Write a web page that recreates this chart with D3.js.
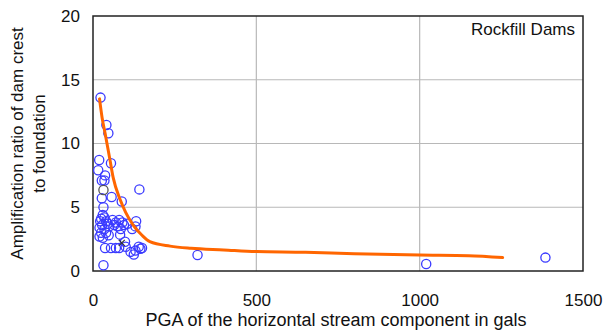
<!DOCTYPE html>
<meta charset="utf-8">
<style>
  body { margin: 0; background: #fff; }
  svg { font-family: "Liberation Sans", Arial, sans-serif; }
  .grid line { stroke: #b8b8b8; stroke-width: 1.2px; }
  .tick text { font-size: 17px; fill: #111; }
  .dam { fill: none; stroke: #3a3aff; stroke-width: 1.3px; }
</style>
<body>
<svg width="607" height="336"></svg>
<script src="https://d3js.org/d3.v7.min.js"></script>
<script>
  // PGA (gals) and amplification ratio of each record
  var pga = [23, 41, 47, 19, 55, 16, 37, 27, 35, 142, 27, 57, 88, 32, 30, 25, 35, 22, 40, 28,
             45, 20, 35, 50, 25, 40, 20, 30, 48, 60, 70, 80, 90, 75, 85, 95, 105, 65, 83, 120,
             132, 130, 98, 55, 70, 80, 100, 115, 125, 130, 140, 145, 150, 37, 32, 320, 1020, 1385];
  var ratio = [13.6, 11.45, 10.8, 8.7, 8.45, 7.9, 7.5, 7.1, 7.1, 6.4, 5.7, 5.8, 5.45, 5.0, 4.4, 4.1, 4.2, 3.9, 3.9, 3.6,
               3.7, 3.4, 3.3, 3.5, 3.0, 3.0, 2.7, 2.6, 2.8, 4.0, 3.8, 4.0, 3.8, 3.5, 3.3, 3.6, 3.7, 3.6, 2.85, 3.3,
               3.9, 3.5, 2.3, 1.8, 1.8, 1.8, 1.9, 1.5, 1.3, 1.6, 1.9, 1.75, 1.8, 1.8, 0.45, 1.25, 0.55, 1.05];
  // two records drawn in dark grey
  var darkPga = [32], darkRatio = [6.35];
  var crossPga = [88], crossRatio = [2.2];

  // fitted curve
  var fitPga = [20, 28, 37, 52, 62, 83, 100, 123, 150, 174, 236, 300, 400, 500, 650, 800, 1000, 1150, 1254];
  var fitRatio = [13.5, 12.0, 10.8, 8.7, 7.3, 5.6, 4.6, 3.6, 2.8, 2.3, 1.95, 1.78, 1.65, 1.52, 1.47, 1.35, 1.25, 1.2, 1.05];

  var xTicks = [0, 500, 1000, 1500];
  var yTicks = [0, 5, 10, 15, 20];

  var svg = d3.select("svg");
  var pLeft = 93, pRight = 583, pTop = 16, pBottom = 271;

  var x = d3.scaleLinear().domain([0, 1500]).range([pLeft, pRight]);
  var y = d3.scaleLinear().domain([0, 20]).range([pBottom, pTop]);

  // grid
  var grid = svg.append("g").attr("class", "grid");
  grid.selectAll("line.h").data(yTicks.slice(1, -1)).enter().append("line")
      .attr("class", "h")
      .attr("x1", pLeft).attr("x2", pRight)
      .attr("y1", function(d) { return y(d); }).attr("y2", function(d) { return y(d); });
  grid.selectAll("line.v").data(xTicks.slice(1, -1)).enter().append("line")
      .attr("class", "v")
      .attr("y1", pTop).attr("y2", pBottom)
      .attr("x1", function(d) { return x(d); }).attr("x2", function(d) { return x(d); });

  // axes, labels only
  svg.append("g")
    .attr("transform", "translate(" + (pLeft - 7) + ",0)")
    .call(d3.axisLeft(y).tickValues(yTicks).tickSize(0).tickPadding(6))
    .call(function(g) { g.select(".domain").remove(); });
  svg.append("g")
    .attr("transform", "translate(0," + (pBottom + 17) + ")")
    .call(d3.axisBottom(x).tickValues(xTicks).tickFormat(d3.format("d")).tickSize(0).tickPadding(6))
    .call(function(g) { g.select(".domain").remove(); });

  // frame
  svg.append("rect")
    .attr("x", pLeft).attr("y", pTop)
    .attr("width", pRight - pLeft).attr("height", pBottom - pTop)
    .attr("fill", "none").attr("stroke", "#222").attr("stroke-width", 1.5);

  // points
  svg.append("g").selectAll("circle").data(pga).enter().append("circle")
    .attr("class", "dam")
    .attr("cx", function(d) { return x(d); })
    .attr("cy", function(d, i) { return y(ratio[i]); })
    .attr("r", 4.6);
  svg.append("g").selectAll("circle").data(darkPga).enter().append("circle")
    .attr("fill", "none").attr("stroke", "#555").attr("stroke-width", 1.3)
    .attr("cx", function(d) { return x(d); })
    .attr("cy", function(d, i) { return y(darkRatio[i]); })
    .attr("r", 4.6);
  svg.append("g").selectAll("path").data(crossPga).enter().append("path")
    .attr("stroke", "#333").attr("stroke-width", 1.2)
    .attr("d", function(d, i) {
      var cx = x(d), cy = y(crossRatio[i]);
      return "M" + (cx - 3) + "," + (cy - 3) + "L" + (cx + 3) + "," + (cy + 3) +
             "M" + (cx - 3) + "," + (cy + 3) + "L" + (cx + 3) + "," + (cy - 3);
    });

  // curve
  var line = d3.line()
    .x(function(d) { return x(d); })
    .y(function(d, i) { return y(fitRatio[i]); })
    .curve(d3.curveMonotoneX);
  svg.append("path").datum(fitPga)
    .attr("d", line)
    .attr("fill", "none").attr("stroke", "#ff6600").attr("stroke-width", 3)
    .attr("stroke-linecap", "round");

  // texts
  svg.append("text")
    .attr("x", 575).attr("y", 35).attr("text-anchor", "end")
    .attr("font-size", 17).attr("fill", "#111")
    .text("Rockfill Dams");
  svg.append("text")
    .attr("x", 336).attr("y", 326).attr("text-anchor", "middle")
    .attr("font-size", 18).attr("fill", "#111")
    .text("PGA of the horizontal stream component in gals");
  var yt = svg.append("text")
    .attr("transform", "translate(23," + (pTop + pBottom) / 2 + ") rotate(-90)")
    .attr("text-anchor", "middle").attr("font-size", 17).attr("fill", "#111");
  yt.append("tspan").attr("x", 0).attr("y", 0).text("Amplification ratio of dam crest");
  yt.append("tspan").attr("x", 0).attr("y", 22).text("to foundation");
</script>
</body>
